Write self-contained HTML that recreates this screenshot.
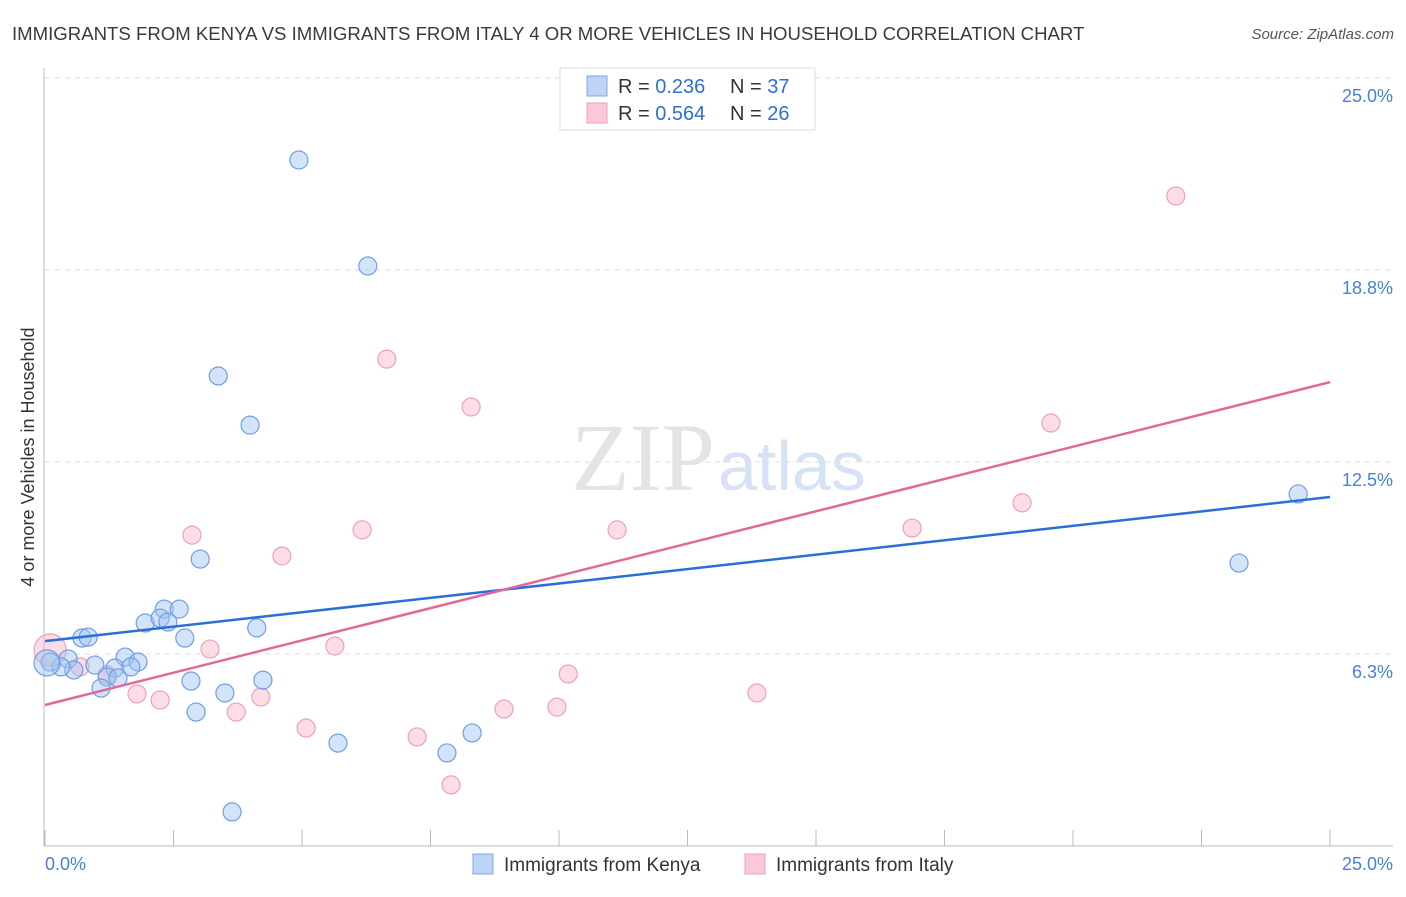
<!DOCTYPE html>
<html><head><meta charset="utf-8"><style>
body{margin:0;background:#fff;font-family:"Liberation Sans",sans-serif}
</style></head><body>
<svg width="1406" height="892" xmlns="http://www.w3.org/2000/svg" font-family="Liberation Sans, sans-serif">
<text x="12" y="40" font-size="18.6" fill="#3a3a3a">IMMIGRANTS FROM KENYA VS IMMIGRANTS FROM ITALY 4 OR MORE VEHICLES IN HOUSEHOLD CORRELATION CHART</text>
<text x="1394" y="39" font-size="15" fill="#555" font-style="italic" text-anchor="end">Source: ZipAtlas.com</text>
<g id="grid"></g>
<text x="715" y="490" font-size="96" fill="#e4e4e4" text-anchor="end" font-family="Liberation Serif, serif">ZIP</text>
<text x="718" y="490" font-size="70" fill="#d6e3f5">atlas</text>
<line x1="44" y1="68" x2="44" y2="846" stroke="#bbb"/>
<line x1="44" y1="846" x2="1393" y2="846" stroke="#bbb"/>
<g id="ticks"></g>
<g id="pts"></g>
<g id="lines"></g>
<text x="45" y="870" font-size="18" fill="#4a7fd6">0.0%</text>
<text x="1393" y="870" font-size="18" fill="#4a7fd6" text-anchor="end">25.0%</text>
<text transform="translate(34,457) rotate(-90)" font-size="18" fill="#333" text-anchor="middle">4 or more Vehicles in Household</text>
<g>
<rect x="560" y="68" width="255" height="62" fill="#fff" stroke="#ddd"/>
<rect x="587" y="76" width="20" height="20" fill="#bcd4f7" stroke="#7fa6e6"/>
<rect x="587" y="103" width="20" height="20" fill="#fac8d8" stroke="#eda0bb"/>
<text x="618" y="93" font-size="20" fill="#333">R = <tspan fill="#2f6fd6">0.236</tspan><tspan x="730">N = </tspan><tspan fill="#2f6fd6">37</tspan></text>
<text x="618" y="120" font-size="20" fill="#333">R = <tspan fill="#2f6fd6">0.564</tspan><tspan x="730">N = </tspan><tspan fill="#2f6fd6">26</tspan></text>
</g>
<g>
<rect x="473" y="854" width="20" height="20" fill="#bcd4f7" stroke="#7fa6e6"/>
<text x="504" y="871" font-size="19" fill="#333">Immigrants from Kenya</text>
<rect x="745" y="854" width="20" height="20" fill="#fac8d8" stroke="#eda0bb"/>
<text x="776" y="871" font-size="19" fill="#333">Immigrants from Italy</text>
</g>
</svg>
<script>
const yTicks=[6.25,12.5,18.75,25];
const yTickLabels=["6.3%","12.5%","18.8%","25.0%"];
const kenyaX=[4.94,6.28,3.37,3.99,24.38,23.23,3.02,2.32,2.61,1.95,2.24,2.39,2.72,4.12,0.72,0.84,0.45,1.56,1.81,0.97,1.36,1.67,0.56,0.31,0.10,0.04,1.21,1.42,1.09,2.84,4.24,3.50,2.94,8.31,5.70,7.82,3.64];
const kenyaY=[22.33,18.88,15.30,13.70,11.46,9.21,9.34,7.71,7.71,7.26,7.42,7.29,6.77,7.10,6.77,6.80,6.09,6.15,5.99,5.89,5.79,5.83,5.73,5.83,5.99,5.96,5.50,5.47,5.14,5.37,5.40,4.98,4.36,3.68,3.35,3.03,1.11];
const italyX=[22.00,6.65,8.29,19.57,19.01,16.87,6.17,11.13,2.86,4.61,5.64,3.21,0.10,0.68,1.21,10.18,1.79,13.85,2.24,4.20,3.72,8.93,9.96,5.08,7.24,7.90];
const italyY=[21.16,15.85,14.29,13.77,11.17,10.35,10.29,10.29,10.12,9.44,6.51,6.41,6.38,5.83,5.57,5.60,4.95,4.98,4.75,4.85,4.36,4.46,4.52,3.84,3.55,1.99];
const kenyaTrend=[6.67,11.36];
const italyTrend=[4.59,15.10];
const NS="http://www.w3.org/2000/svg";
const sx=v=>45+v*51.4, sy=v=>846-v*30.72;
function mk(t,a,p){const e=document.createElementNS(NS,t);for(const k in a)e.setAttribute(k,a[k]);document.getElementById(p).appendChild(e);return e;}
yTicks.forEach((t,i)=>{
 const l=mk('line',{x1:45,x2:1393,y1:sy(t),y2:sy(t),stroke:'#ddd','stroke-dasharray':'5,5'},'grid');
 
 
 const tx=mk('text',{x:1393,y:sy(t)+24,'font-size':18,fill:'#4a7fd6','text-anchor':'end'},'grid');
 tx.textContent=yTickLabels[i];
 
 
});
for(let i=0;i<=10;i++){
 const l=mk('line',{x1:sx(i*2.5),x2:sx(i*2.5),y1:830,y2:846,stroke:'#bbb'},'ticks');
 
 
}
italyX.forEach((x,i)=>{
 const c=mk('circle',{cx:sx(x),cy:sy(italyY[i]),r:(i==12?16:9),fill:'rgba(248,180,200,0.45)',stroke:'#eda0bb','stroke-width':1.2},'pts');
 
 
});
kenyaX.forEach((x,i)=>{
 const c=mk('circle',{cx:sx(x),cy:sy(kenyaY[i]),r:(i==25?13:9),fill:'rgba(160,195,240,0.45)',stroke:'#6f9ee6','stroke-width':1.2},'pts');
 
 
});
const lb=mk('line',{x1:sx(0),y1:sy(kenyaTrend[0]),x2:sx(25),y2:sy(kenyaTrend[1]),stroke:'#2a6fd6','stroke-width':2.5},'lines');


const lp=mk('line',{x1:sx(0),y1:sy(italyTrend[0]),x2:sx(25),y2:sy(italyTrend[1]),stroke:'#e0699a','stroke-width':2.5},'lines');


</script>
</body></html>
